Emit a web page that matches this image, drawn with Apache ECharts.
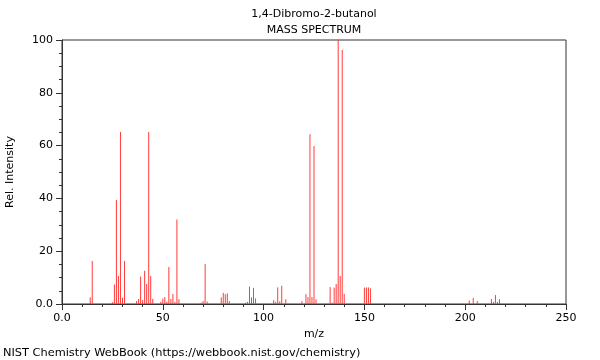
<!DOCTYPE html>
<html>
<head>
<meta charset="utf-8">
<script src="https://cdn.jsdelivr.net/npm/echarts@6.0.0/dist/echarts.min.js"></script>
<style>
html,body{margin:0;padding:0;background:#fff;}
#chart{width:600px;height:360px;}
</style>
</head>
<body>
<div id="chart"></div>
<script>
var titleLines = ["1,4-Dibromo-2-butanol", "MASS SPECTRUM"];
var footerText = "NIST Chemistry WebBook (https://webbook.nist.gov/chemistry)";
var xName = "m/z";
var yName = "Rel. Intensity";

var mz = [14,15,25,26,27,28,29,30,31,37,38,39,40,41,42,43,44,45,49,50,51,52,53,54,55,56,57,58,
  69,70,71,72,79,80,81,82,83,91,92,93,94,95,96,105,106,107,108,109,111,
  119,121,122,123,124,125,126,133,134,135,136,137,138,139,140,150,151,152,153,
  202,204,206,213,214,215,216,217];
var intensity = [2.5,16.3,0.7,7.4,39.4,10.6,65.2,2.4,16.3,1.1,1.9,10.4,1.5,12.6,7.6,65.2,10.6,1.9,0.8,2.0,2.6,0.9,14.0,1.9,3.8,0.8,32.0,1.8,
  0.5,1.1,15.2,0.9,2.5,4.2,3.7,4.0,1.1,0.5,0.8,6.6,2.5,6.1,2.1,1.4,0.8,6.3,1.0,6.9,1.8,
  1.1,3.7,2.6,64.3,2.6,59.8,1.7,6.4,0.5,6.2,7.6,100,10.6,96.2,3.8,6.2,6.3,6.3,5.9,
  1.3,2.3,1.1,1.9,0.8,3.4,0.8,1.8];

var font = "DejaVu Sans";
var chart = echarts.init(document.getElementById('chart'), null, {renderer: 'canvas'});
var fmt = function (v) { return v === 0 ? '0.0' : String(v); };
var axisColor = '#333';
chart.setOption({
  animation: false,
  textStyle: {fontFamily: font},
  grid: {left: 62, right: 34, top: 40, bottom: 56, containLabel: false, outerBoundsMode: 'none',
    show: true, borderColor: axisColor, borderWidth: 1, backgroundColor: 'transparent'},
  graphic: [
    {type: 'text', x: 314, y: 14, style: {text: titleLines[0], font: '11px "DejaVu Sans"', fill: '#000', align: 'center', verticalAlign: 'middle'}},
    {type: 'text', x: 314, y: 30, style: {text: titleLines[1], font: '11px "DejaVu Sans"', fill: '#000', align: 'center', verticalAlign: 'middle'}},
    {type: 'text', x: 3, y: 353, style: {text: footerText, font: '11.35px "DejaVu Sans"', fill: '#000', align: 'left', verticalAlign: 'middle'}}
  ],
  xAxis: {
    type: 'value', min: 0, max: 250, interval: 50,
    name: xName, nameLocation: 'middle', nameGap: 23,
    nameTextStyle: {fontSize: 11, color: '#000', fontFamily: font},
    axisLine: {show: true, lineStyle: {color: axisColor, width: 1}},
    axisTick: {show: true, length: 6, lineStyle: {color: axisColor}},
    minorTick: {show: true, splitNumber: 5, length: 3, lineStyle: {color: axisColor}},
    axisLabel: {fontSize: 11, color: '#000', margin: 9, formatter: fmt, fontFamily: font},
    splitLine: {show: false}
  },
  yAxis: {
    type: 'value', min: 0, max: 100, interval: 20,
    name: yName, nameLocation: 'middle', nameGap: 46, nameRotate: 90,
    nameTextStyle: {fontSize: 11, color: '#000', fontFamily: font},
    axisLine: {show: true, lineStyle: {color: axisColor, width: 1}},
    axisTick: {show: true, length: 6, lineStyle: {color: axisColor}},
    minorTick: {show: true, splitNumber: 4, length: 3, lineStyle: {color: axisColor}},
    axisLabel: {fontSize: 11, color: '#000', margin: 9, formatter: fmt, fontFamily: font},
    splitLine: {show: false}
  },
  series: [{
    type: 'custom',
    clip: true,
    data: mz.map(function (m, i) { return [m, intensity[i]]; }),
    renderItem: function (params, api) {
      var p0 = api.coord([api.value(0), 0]);
      var p1 = api.coord([api.value(0), api.value(1)]);
      return {
        type: 'line',
        shape: {x1: p0[0], y1: p0[1], x2: p1[0], y2: p1[1]},
        style: {stroke: '#ff3c3c', lineWidth: 1}
      };
    }
  }]
});
</script>
</body>
</html>
